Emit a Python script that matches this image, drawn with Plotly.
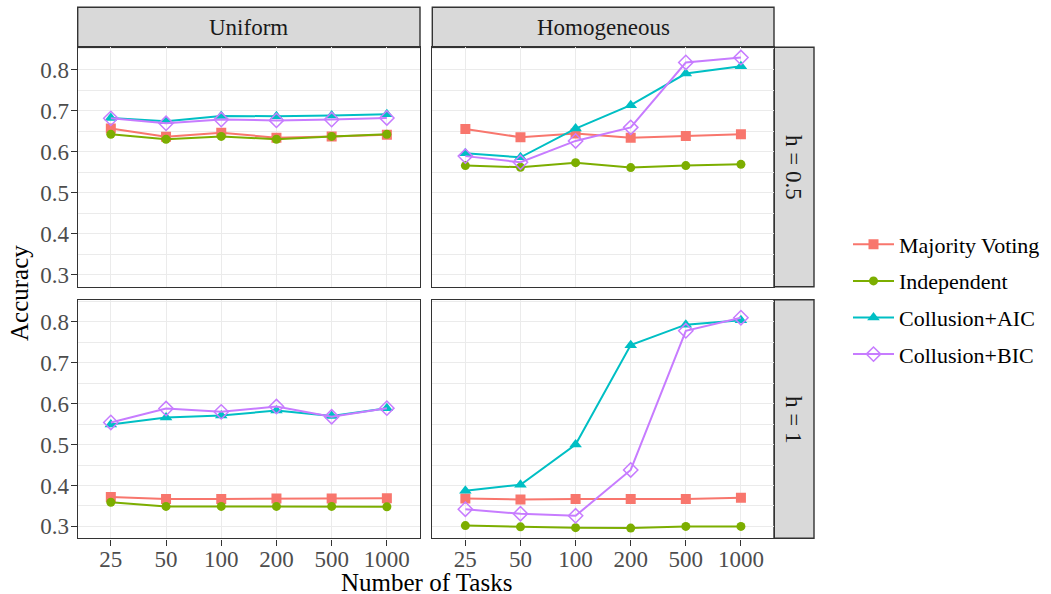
import plotly.graph_objects as go

tasks = ["25", "50", "100", "200", "500", "1000"]
methods = ["Majority Voting", "Independent", "Collusion+AIC", "Collusion+BIC"]

# Uniform, h = 0.5
uni_h05_mv = [0.656, 0.636, 0.646, 0.634, 0.637, 0.641]
uni_h05_ind = [0.642, 0.630, 0.637, 0.630, 0.637, 0.642]
uni_h05_aic = [0.682, 0.674, 0.687, 0.686, 0.688, 0.691]
uni_h05_bic = [0.681, 0.669, 0.678, 0.676, 0.678, 0.682]
# Homogeneous, h = 0.5
hom_h05_mv = [0.655, 0.635, 0.644, 0.634, 0.638, 0.642]
hom_h05_ind = [0.566, 0.562, 0.573, 0.561, 0.566, 0.569]
hom_h05_aic = [0.596, 0.586, 0.656, 0.713, 0.790, 0.808]
hom_h05_bic = [0.589, 0.574, 0.626, 0.659, 0.817, 0.829]
# Uniform, h = 1
uni_h1_mv = [0.372, 0.367, 0.367, 0.368, 0.368, 0.369]
uni_h1_ind = [0.359, 0.349, 0.349, 0.349, 0.349, 0.348]
uni_h1_aic = [0.549, 0.566, 0.571, 0.583, 0.570, 0.589]
uni_h1_bic = [0.554, 0.588, 0.580, 0.593, 0.568, 0.589]
# Homogeneous, h = 1
hom_h1_mv = [0.368, 0.366, 0.367, 0.367, 0.367, 0.370]
hom_h1_ind = [0.302, 0.299, 0.297, 0.296, 0.300, 0.300]
hom_h1_aic = [0.387, 0.402, 0.500, 0.743, 0.793, 0.804]
hom_h1_bic = [0.342, 0.331, 0.326, 0.438, 0.778, 0.810]

col_labels = ["Uniform", "Homogeneous"]
row_labels = ["h = 0.5", "h = 1"]
y_ticks = [0.3, 0.4, 0.5, 0.6, 0.7, 0.8]

panels = {
    (0, 0): [uni_h05_mv, uni_h05_ind, uni_h05_aic, uni_h05_bic],
    (0, 1): [hom_h05_mv, hom_h05_ind, hom_h05_aic, hom_h05_bic],
    (1, 0): [uni_h1_mv, uni_h1_ind, uni_h1_aic, uni_h1_bic],
    (1, 1): [hom_h1_mv, hom_h1_ind, hom_h1_aic, hom_h1_bic],
}

colors = ["#F8766D", "#7CAE00", "#00BFC4", "#C77CFF"]
symbols = ["square", "circle", "triangle-up", "diamond-open"]
msizes = [10, 9, 11, 11]

W, H = 1051, 594
FONT = "Liberation Serif"

def px(x):
    return x / W

def py(y):
    return 1 - y / H

col_x = [(77.7, 420.0), (432.3, 774.0)]
row_y = [(47.3, 286.7), (299.7, 538.3)]

fig = go.Figure()

axis_idx = {(0, 0): 1, (0, 1): 2, (1, 0): 3, (1, 1): 4}
for (r, c), series in panels.items():
    i = axis_idx[(r, c)]
    xa = "x" if i == 1 else f"x{i}"
    ya = "y" if i == 1 else f"y{i}"
    for k, vals in enumerate(series):
        fig.add_trace(go.Scatter(
            x=tasks, y=vals, xaxis=xa, yaxis=ya,
            mode="lines+markers", name=methods[k],
            legendgroup=methods[k], showlegend=(i == 1),
            line=dict(color=colors[k], width=2),
            marker=dict(symbol=symbols[k], color=colors[k], size=msizes[k],
                        line=dict(color=colors[k], width=1.5 if k == 3 else 0)),
        ))
    x0, x1 = col_x[c]
    y0, y1 = row_y[r]
    xkey = "xaxis" if i == 1 else f"xaxis{i}"
    ykey = "yaxis" if i == 1 else f"yaxis{i}"
    fig.update_layout({
        xkey: dict(
            domain=[px(x0), px(x1)], anchor=ya, type="category",
            categoryorder="array", categoryarray=tasks,
            range=[-0.6, 5.6], showgrid=True, gridcolor="#EBEBEB", gridwidth=1.1,
            showline=True, mirror=True, linecolor="#333333", linewidth=1.4,
            ticks="outside" if r == 1 else "", ticklen=6, tickcolor="#333333",
            tickwidth=1.1, showticklabels=(r == 1), ticklabelstandoff=-6,
            tickfont=dict(family=FONT, size=23, color="#4D4D4D"),
            zeroline=False, fixedrange=True,
        ),
        ykey: dict(
            domain=[py(y1), py(y0)], anchor=xa, range=[0.271, 0.854],
            tickvals=y_ticks, ticktext=[f"{v:.1f}" for v in y_ticks],
            showgrid=True, gridcolor="#EBEBEB", gridwidth=1.1,
            minor=dict(tickvals=[0.35, 0.45, 0.55, 0.65, 0.75, 0.85],
                       showgrid=True, gridcolor="#EBEBEB", gridwidth=0.6, ticks=""),
            showline=True, mirror=True, linecolor="#333333", linewidth=1.4,
            ticks="outside" if c == 0 else "", ticklen=6, tickcolor="#333333",
            tickwidth=1.1, showticklabels=(c == 0), ticklabelstandoff=-3,
            tickfont=dict(family=FONT, size=23, color="#4D4D4D"),
            zeroline=False, fixedrange=True,
        ),
    })

shapes = []
annotations = []
# column strips
for c, lab in enumerate(col_labels):
    x0, x1 = col_x[c]
    shapes.append(dict(type="rect", xref="paper", yref="paper",
                       x0=px(x0), x1=px(x1), y0=py(47.3), y1=py(7.3),
                       fillcolor="#D9D9D9", line=dict(color="#333333", width=1.4),
                       layer="below"))
    annotations.append(dict(text=lab, xref="paper", yref="paper",
                            x=px((x0 + x1) / 2), y=py(27.3), showarrow=False,
                            xanchor="center", yanchor="middle",
                            font=dict(family=FONT, size=23, color="#1A1A1A")))
# row strips
for r, lab in enumerate(row_labels):
    y0, y1 = row_y[r]
    shapes.append(dict(type="rect", xref="paper", yref="paper",
                       x0=px(774.0), x1=px(814.0), y0=py(y1), y1=py(y0),
                       fillcolor="#D9D9D9", line=dict(color="#333333", width=1.4),
                       layer="below"))
    annotations.append(dict(text=lab, xref="paper", yref="paper",
                            x=px(794.0), y=py((y0 + y1) / 2), showarrow=False,
                            textangle=90, xanchor="center", yanchor="middle",
                            font=dict(family=FONT, size=23, color="#1A1A1A")))
# axis titles
annotations.append(dict(text="Number of Tasks", xref="paper", yref="paper",
                        x=px(426), y=py(582), showarrow=False,
                        xanchor="center", yanchor="middle", borderpad=0,
                        font=dict(family=FONT, size=25, color="black")))
annotations.append(dict(text="Accuracy", xref="paper", yref="paper",
                        x=px(19), y=py(293), showarrow=False, textangle=-90,
                        xanchor="center", yanchor="middle", borderpad=0,
                        font=dict(family=FONT, size=25, color="black")))

fig.update_layout(
    width=W, height=H,
    margin=dict(l=0, r=0, t=0, b=0),
    paper_bgcolor="white", plot_bgcolor="white",
    shapes=shapes, annotations=annotations,
    showlegend=True,
    legend=dict(x=px(848), y=py(299.5), xanchor="left", yanchor="middle",
                font=dict(family=FONT, size=22, color="black"),
                traceorder="grouped", tracegroupgap=5, itemwidth=41,
                bgcolor="rgba(0,0,0,0)", borderwidth=0),
    font=dict(family=FONT),
)

fig.write_html(
    "out.html",
    config={"displayModeBar": False},
    post_script="document.body.style.margin='0px';document.body.style.overflow='hidden';",
)
